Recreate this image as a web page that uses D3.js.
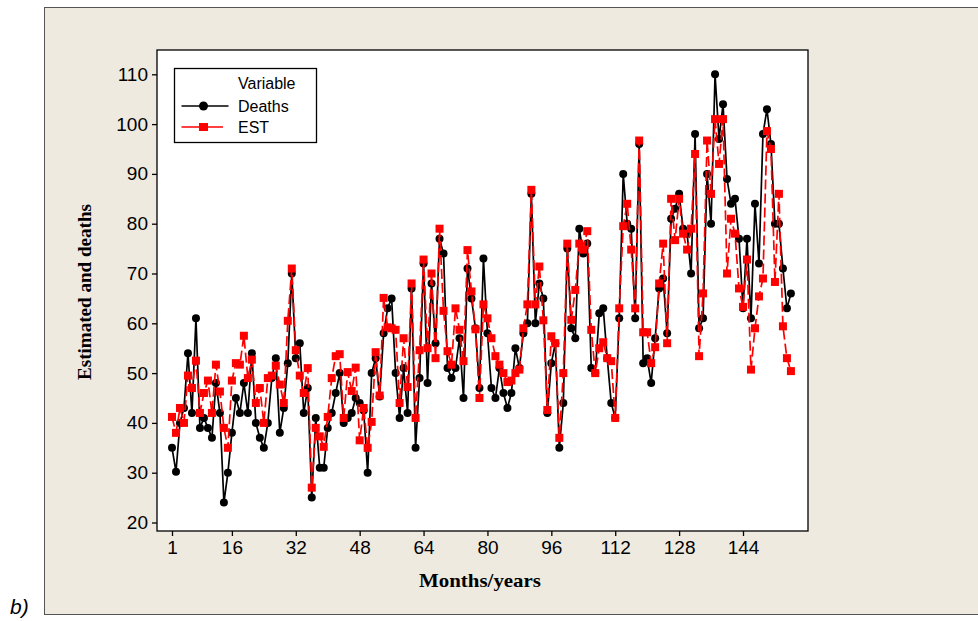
<!DOCTYPE html>
<html><head><meta charset="utf-8">
<script src="https://cdn.jsdelivr.net/npm/d3@7"></script>
<style>body{margin:0;background:#fff}svg{display:block}</style>
</head><body>
<svg id="c" width="978" height="621"></svg>
<script>
const deaths = [35,30.2,40,43,54,42,61,39,41,39,37,48,42,24,30,38,45,42,48,42,
54,40,37,35,40,49,53,38,43,52,70,53,56,42,47,25,41,31,31,39,
42,46,50,40,41,42,45,44,42.5,30,50,53,45.3,58,63,65,50,41,51,42,
67,35,49,72,48,68,56,77,74,51,49,51,57,45,71,65,59,47,73,58,
47,45,51,46,43,46,55,51,58,60,86,60,68,65,42,52,56,35,44,75,
59,57,79,74,76,51,50,62,63,53,44,41,61,90,80,79,61,96,52,53,
48,57,67,69,58,81,83,86,79,78,70,98,59,61,90,80,110,97,104,89,
84,85,77,63,77,61,84,72,98,103,96,80,80,71,63,66];
const est = [41.2,38,43,40,49.5,47,52.5,42,46,48.5,42,51.7,46.3,39,35,48.5,52,51.7,57.5,49,
52.7,44,47,40,49,49.5,51.5,47.7,44,60.5,71,54.6,49.5,46,51,27,39,37.3,35.2,41.2,
49,53.4,53.8,41,50.2,46.4,51.1,36.5,43,35,40.2,54.2,45.5,65.1,59.2,59,58.7,44,57,47.2,
68,41,54.6,72.8,55,70,53,79,62.5,54.4,51.7,63,58.7,52.4,74.7,66.4,58.8,45,63.8,61,
57,53.4,51.7,50,48.2,48.5,50,50.7,59,63.8,86.8,63.8,71.4,60.6,42.6,57.4,56,37,50,76,
60.7,66.7,76,74.8,78.5,58.7,50,55,56.2,53,52.4,41,63,79.5,84,74.8,63,96.7,58.2,58.2,
52,55.2,68,76,56,85,76.7,85,78,74.8,79,94,53.4,66,96.7,86,101,92,101,70,
81,78,67,63.3,72.8,50.7,59,65.4,69,98.6,95,68.3,86,59.4,53,50.4];
const xTicks = [1,16,32,48,64,80,96,112,128,144];
const yTicks = [20,30,40,50,60,70,80,90,100,110];
const seriesNames = ["Deaths","EST"];

const svg = d3.select("#c");
const sans = "'Liberation Sans', Arial, sans-serif";
const serif = "'Liberation Serif', 'Times New Roman', serif";

// outer panel
svg.append("rect").attr("x",44.5).attr("y",7.5).attr("width",940).attr("height",607)
  .attr("fill","#EEEAE0").attr("stroke","#555").attr("stroke-width",1);
svg.append("text").attr("x",10).attr("y",614).attr("font-family",sans)
  .attr("font-style","italic").attr("font-size",21).attr("fill","#000").text("b)");

const L = 157, R = 808, T = 50, B = 531;
svg.append("rect").attr("x",L).attr("y",T).attr("width",R-L).attr("height",B-T)
  .attr("fill","#fff").attr("stroke","#000").attr("stroke-width",1.3);

const x = d3.scaleLinear().domain([1,144]).range([172,743]);
const y = d3.scaleLinear().domain([20,110]).range([522.5,74.3]);

const ax = svg.append("g").attr("transform",`translate(${L},0)`)
  .call(d3.axisLeft(y).tickValues(yTicks).tickSize(5).tickPadding(4));
ax.select(".domain").remove();
ax.selectAll("line").attr("stroke","#000").attr("stroke-width",1.3);
ax.selectAll("text").attr("font-family",sans).attr("font-size",19).attr("fill","#000");

const bx = svg.append("g").attr("transform",`translate(0,${B})`)
  .call(d3.axisBottom(x).tickValues(xTicks).tickSize(5).tickPadding(5));
bx.select(".domain").remove();
bx.selectAll("line").attr("stroke","#000").attr("stroke-width",1.3);
bx.selectAll("text").attr("font-family",sans).attr("font-size",19).attr("fill","#000");

svg.append("text").attr("transform","translate(91,292) rotate(-90)")
  .attr("text-anchor","middle").attr("font-family",serif).attr("font-weight","bold")
  .attr("font-size",18).attr("textLength",176).attr("lengthAdjust","spacingAndGlyphs")
  .text("Estimated and deaths");
svg.append("text").attr("x",480).attr("y",587)
  .attr("text-anchor","middle").attr("font-family",serif).attr("font-weight","bold")
  .attr("font-size",19).attr("textLength",122).attr("lengthAdjust","spacingAndGlyphs")
  .text("Months/years");

const line = d3.line().x((d,i)=>x(i+1)).y(d=>y(d));
const g = svg.append("g");
g.append("path").datum(deaths).attr("d",line).attr("fill","none")
  .attr("stroke","#000").attr("stroke-width",1.7);
g.selectAll("circle.d").data(deaths).join("circle").attr("class","d")
  .attr("cx",(d,i)=>x(i+1)).attr("cy",d=>y(d)).attr("r",4).attr("fill","#000");
g.append("path").datum(est).attr("d",line).attr("fill","none")
  .attr("stroke","#FF0000").attr("stroke-width",1.7).attr("stroke-dasharray","10,4");
g.selectAll("rect.e").data(est).join("rect").attr("class","e")
  .attr("x",(d,i)=>x(i+1)-4).attr("y",d=>y(d)-4).attr("width",8).attr("height",8)
  .attr("fill","#FF0000");

// legend
const lg = svg.append("g");
lg.append("rect").attr("x",174.5).attr("y",68.5).attr("width",142).attr("height",74)
  .attr("fill","#fff").attr("stroke","#000").attr("stroke-width",1.3);
lg.append("text").attr("x",238).attr("y",89).attr("font-family",sans).attr("font-size",16).text("Variable");
const ly = [106,127];
const lcol = ["#000","#FF0000"];
seriesNames.forEach((n,i)=>{
  lg.append("line").attr("x1",181.5).attr("x2",i?223:228.5).attr("y1",ly[i]).attr("y2",ly[i])
    .attr("stroke",lcol[i]).attr("stroke-width",1.5);
  if(i===0) lg.append("circle").attr("cx",203.5).attr("cy",ly[i]).attr("r",4.5).attr("fill","#000");
  else lg.append("rect").attr("x",199).attr("y",ly[i]-4).attr("width",9).attr("height",8).attr("fill","#FF0000");
  lg.append("text").attr("x",238).attr("y",ly[i]+6).attr("font-family",sans).attr("font-size",16).text(n);
});
</script>
</body></html>
